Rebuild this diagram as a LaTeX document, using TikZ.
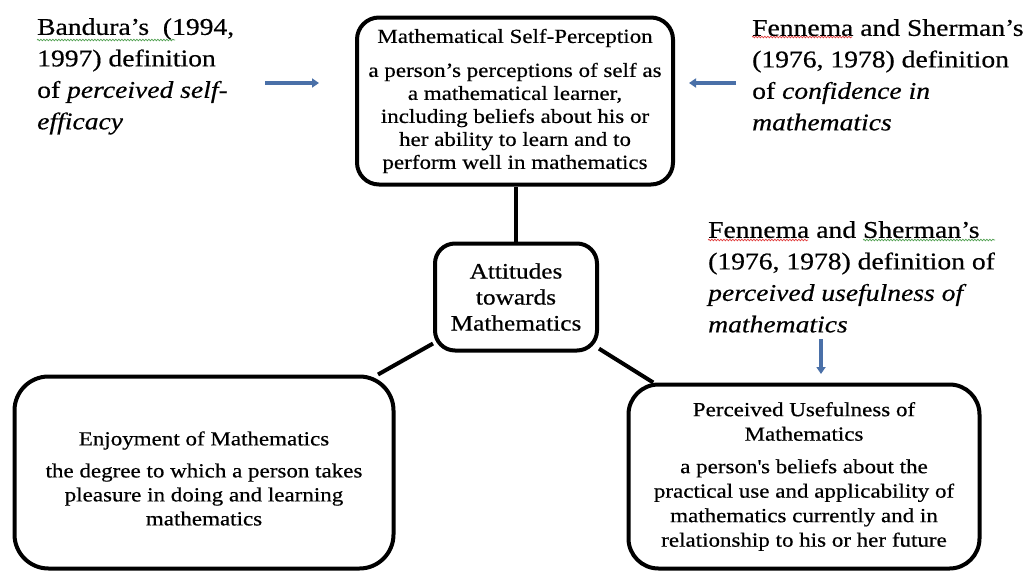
\documentclass[tikz,border=0pt]{standalone}
\usepackage{fontspec}
\setmainfont{Liberation Serif}[FakeStretch=1.15,FakeBold=0.5]
\usetikzlibrary{arrows.meta,decorations.pathmorphing}
\definecolor{arrowblue}{RGB}{74,112,168}
\definecolor{spellred}{RGB}{225,60,60}
\definecolor{spellgreen}{RGB}{80,160,80}
\tikzset{
  box/.style={draw=black, line width=4pt, fill=white, align=center, inner sep=0pt},
  conn/.style={line width=4pt, black},
  defn/.style={anchor=north west, align=left, inner sep=0pt, font=\fontsize{24}{31.5}\selectfont},
  barrow/.style={arrowblue, line width=3.5pt, -{Triangle[length=7pt,width=9pt]}},
  squig/.style={line width=0.7pt, decorate, decoration={snake, amplitude=0.8pt, segment length=3pt}},
}
\begin{document}
\begin{tikzpicture}[x=1pt,y=-1pt]
\useasboundingbox[fill=white] (0,0) rectangle (1026,574);

% boxes
\node[box, rounded corners=22pt, minimum width=316pt, minimum height=167pt,
      font=\fontsize{20}{23}\selectfont] (msp) at (515,101)
  {Mathematical Self-Perception\\[11pt]
   a person’s perceptions of self as\\
   a mathematical learner,\\
   including beliefs about his or\\
   her ability to learn and to\\
   perform well in mathematics};

\node[box, rounded corners=20pt, minimum width=162pt, minimum height=107pt,
      font=\fontsize{22}{26}\selectfont] (att) at (516,297)
  {Attitudes\\towards\\Mathematics};

\node[box, rounded corners=34pt, minimum width=379pt, minimum height=192pt,
      font=\fontsize{20}{24}\selectfont] (enj) at (204,472.5)
  {\rule{0pt}{26pt}Enjoyment of Mathematics\\[8pt]
   the degree to which a person takes\\
   pleasure in doing and learning\\
   mathematics};

\node[box, rounded corners=30pt, minimum width=351pt, minimum height=184pt,
      font=\fontsize{20}{24.5}\selectfont] (use) at (804,476.5)
  {Perceived Usefulness of\\
   Mathematics\\[8pt]
   a person\textquotesingle s beliefs about the\\
   practical use and applicability of\\
   mathematics currently and in\\
   relationship to his or her future};

% connectors
\draw[conn] (att.north) -- (att.north |- msp.south);
\draw[conn] (att) -- (enj);
\draw[conn] (att) -- (use);

% definition texts
\node[defn] (bandura) at (37,18)
  {Bandura’s\ \ (1994,\\
   1997) definition\\
   of \textit{perceived self-}\\
   \textit{efficacy}};

\node[defn] (fsconf) at (752,19)
  {Fennema and Sherman’s\\
   (1976, 1978) definition\\
   of \textit{confidence in}\\
   \textit{mathematics}};

\node[defn] (fsuse) at (708,221)
  {Fennema and Sherman’s\\
   (1976, 1978) definition of\\
   \textit{perceived usefulness of}\\
   \textit{mathematics}};

% blue arrows
\coordinate (a1s) at (265,83);
\coordinate (a1e) at (319,83);
\coordinate (a2s) at (736,83);
\coordinate (a2e) at (689,83);
\coordinate (a3s) at (821,339);
\coordinate (a3e) at (821,374);
\draw[barrow] (a1s) -- (a1e);
\draw[barrow] (a2s) -- (a2e);
\draw[barrow] (a3s) -- (a3e);

% spell-check squiggles
\draw[squig, spellgreen] (37,40) -- (175,40);
\draw[squig, spellred] (752,37) -- (852,37);
\draw[squig, spellred] (708,240) -- (808,240);
\draw[squig, spellgreen] (863,240) -- (995,240);
\end{tikzpicture}
\end{document}
